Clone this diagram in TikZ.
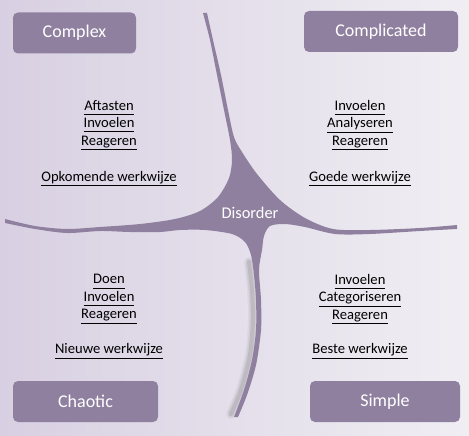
\documentclass[tikz,border=0pt]{standalone}
\usepackage{fontspec}
\setmainfont{Carlito}
\definecolor{cynefin}{HTML}{8F80A0}
\definecolor{bgleft}{HTML}{D8D0E2}
\definecolor{bgright}{HTML}{F0EEF3}
\newcommand{\ulword}[1]{\underline{\vphantom{g}#1}}
\begin{document}
\begin{tikzpicture}[x=1pt, y=-1pt, node distance=53.5pt]
    \tikzstyle{domainbox} = [rectangle, rounded corners=5pt, minimum height=41pt,
        text centered, fill=cynefin, text=white, font=\fontsize{18}{21}\selectfont]
    \tikzstyle{steps} = [align=center, inner sep=0pt, font=\fontsize{14.6}{17.5}\selectfont]
    \tikzstyle{practice} = [steps]
    \tikzstyle{armshadow} = [black, line cap=round]

    % Achtergrond
    \fill [left color=bgleft, right color=bgright] (0,0) rectangle (469,436);

    % Schaduw onder de onderste arm
    \foreach \w/\o in {10/0.04, 7/0.06, 4/0.08}
        \draw [armshadow, opacity=\o, line width=\w pt] plot[smooth] coordinates
            {(249,262) (252,290) (253,320) (250,355) (241,390) (231,414)};

    % Het kruis met Disorder in het midden
    \fill [cynefin] plot[smooth] coordinates {(207,13) (213,40) (221,75) (228,110) (234,137)
            (242,152) (257,174) (280,200) (305,218) (333,229) (370,230) (420,228) (457,225)}
        -- plot[smooth] coordinates {(457,229) (420,231) (370,234) (335,234) (305,227)
            (285,224) (270,226) (264,236) (262,250) (259,270) (261,300) (261,330) (256,365)
            (247,395) (238,417)}
        -- plot[smooth] coordinates {(234,417) (244,390) (252,360) (256,330) (256,300)
            (254,275) (251,255) (245,242) (232,234) (205,230) (180,230) (160,232) (130,232)
            (100,231) (67,233) (35,229) (5,223)}
        -- plot[smooth] coordinates {(5,219) (35,226) (67,229) (100,227) (140,224) (175,219)
            (200,211) (218,197) (229,178) (232,160) (230,140) (224,110) (216,70) (210,40)
            (203,13)}
        -- cycle;
    \node (disorder) at (250,213) [text=white, font=\fontsize{16.4}{19}\selectfont] {Disorder};

    \node (complex) at (74.5,33) [domainbox, minimum width=123pt] {Complex};
    \node (complicated) at (381,31.5) [domainbox, minimum width=154pt] {Complicated};
    \node (chaotic) at (85.5,401.5) [domainbox, minimum width=145pt] {Chaotic};
    \node (simple) at (385,401.5) [domainbox, minimum width=150pt] {Simple};

    \node (cx_s) at (109,125) [steps]
        {\ulword{Aftasten}\\ \ulword{Invoelen}\\ \ulword{Reageren}};
    \node (cx_p) [practice, below of=cx_s] {\ulword{Opkomende werkwijze}};
    \node (cp_s) at (360,125) [steps]
        {\ulword{Invoelen}\\ \ulword{Analyseren}\\ \ulword{Reageren}};
    \node (cp_p) [practice, below of=cp_s] {\ulword{Goede werkwijze}};

    \node (ch_s) at (109,299) [steps]
        {\ulword{Doen}\\ \ulword{Invoelen}\\ \ulword{Reageren}};
    \node (ch_p) [practice, below of=ch_s, node distance=52pt] {\ulword{Nieuwe werkwijze}};
    \node (sp_s) at (360,299) [steps]
        {\ulword{Invoelen}\\ \ulword{Categoriseren}\\ \ulword{Reageren}};
    \node (sp_p) [practice, below of=sp_s, node distance=52pt] {\ulword{Beste werkwijze}};
\end{tikzpicture}
\end{document}
